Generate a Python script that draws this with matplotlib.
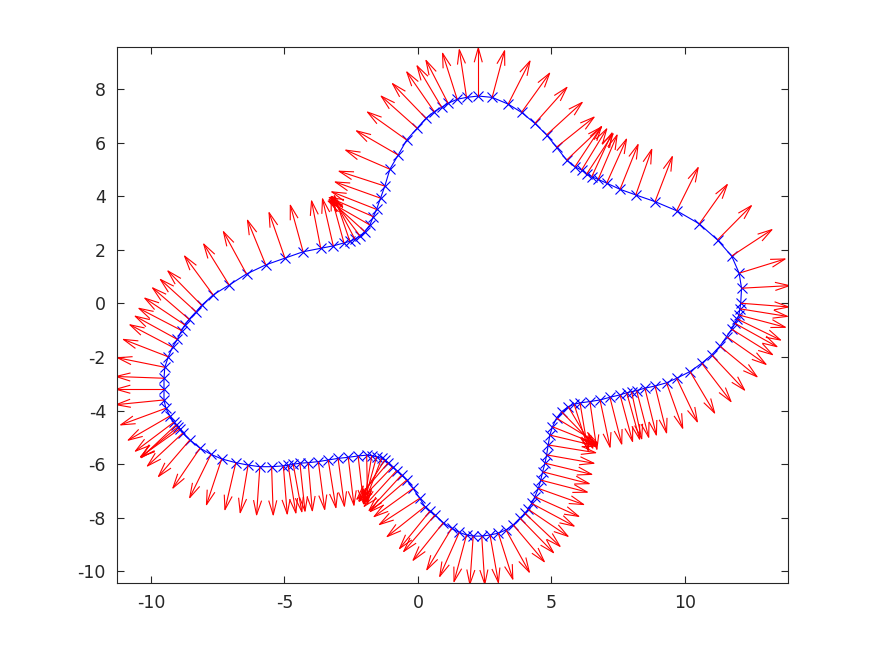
import numpy as np
import matplotlib
matplotlib.use('Agg')
import matplotlib.pyplot as plt
from matplotlib.collections import LineCollection

plt.rcParams['axes.unicode_minus'] = False

# boundary points, counter-clockwise from the top
curve_x = [2.26, 1.82, 1.47, 1.13, 0.89, 0.61, 0.30, -0.03, -0.42, -0.74,
           -1.05, -1.24, -1.40, -1.55, -1.67, -1.80, -1.99, -2.17, -2.36, -2.55,
           -2.77, -3.17, -3.64, -4.30, -4.98, -5.70, -6.42, -7.07, -7.67, -8.10,
           -8.31, -8.57, -8.73, -8.85, -9.01, -9.19, -9.35, -9.48, -9.51, -9.51,
           -9.51, -9.44, -9.29, -9.14, -9.05, -8.98, -8.92, -8.81, -8.54, -8.16,
           -7.75, -7.35, -6.82, -6.36, -5.92, -5.48, -5.04, -4.86, -4.67, -4.42,
           -4.11, -3.73, -3.36, -2.99, -2.61, -2.24, -1.92, -1.73, -1.55, -1.36,
           -1.24, -1.11, -0.95, -0.80, -0.61, -0.42, -0.18, 0.07, 0.26, 0.45,
           0.64, 0.95, 1.26, 1.55, 1.82, 2.07, 2.39, 2.70, 3.01, 3.30,
           3.57, 3.82, 4.01, 4.13, 4.26, 4.38, 4.51, 4.60, 4.67, 4.76,
           4.82, 4.88, 4.94, 5.04, 5.19, 5.38, 5.63, 5.85, 6.07, 6.44,
           6.82, 7.19, 7.57, 7.82, 8.00, 8.19, 8.50, 8.88, 9.31, 9.69,
           10.19, 10.63, 11.00, 11.31, 11.56, 11.75, 11.87, 11.96, 12.02, 12.06,
           12.09, 12.12, 12.03, 11.75, 11.22, 10.54, 9.69, 8.88, 8.16, 7.57,
           7.07, 6.75, 6.51, 6.32, 6.13, 5.88, 5.57, 5.19, 4.82, 4.38,
           3.88, 3.38, 2.78]
curve_y = [7.74, 7.69, 7.62, 7.47, 7.32, 7.16, 6.91, 6.54, 6.10, 5.54,
           5.01, 4.38, 3.93, 3.51, 3.24, 2.93, 2.68, 2.52, 2.40, 2.32,
           2.26, 2.15, 2.06, 1.93, 1.69, 1.44, 1.10, 0.69, 0.32, -0.07,
           -0.31, -0.59, -0.80, -1.01, -1.34, -1.63, -1.99, -2.38, -2.79, -3.20,
           -3.60, -3.91, -4.20, -4.43, -4.52, -4.60, -4.68, -4.84, -5.09, -5.40,
           -5.63, -5.80, -5.94, -6.03, -6.09, -6.09, -6.06, -6.04, -6.00, -5.96,
           -5.94, -5.90, -5.84, -5.78, -5.74, -5.69, -5.66, -5.68, -5.72, -5.78,
           -5.84, -5.94, -6.09, -6.24, -6.40, -6.59, -6.90, -7.27, -7.58, -7.75,
           -7.89, -8.18, -8.39, -8.54, -8.64, -8.68, -8.68, -8.64, -8.57, -8.45,
           -8.26, -8.01, -7.83, -7.68, -7.46, -7.21, -6.90, -6.59, -6.28, -5.96,
           -5.65, -5.28, -4.91, -4.60, -4.28, -4.04, -3.85, -3.76, -3.71, -3.66,
           -3.60, -3.50, -3.41, -3.33, -3.29, -3.25, -3.16, -3.08, -2.96, -2.79,
           -2.54, -2.23, -1.92, -1.59, -1.24, -0.96, -0.74, -0.58, -0.43, -0.20,
           0.01, 0.57, 1.13, 1.77, 2.37, 2.97, 3.46, 3.80, 4.05, 4.26,
           4.49, 4.63, 4.73, 4.83, 4.98, 5.10, 5.35, 5.83, 6.29, 6.72,
           7.13, 7.44, 7.69]

x_ticks = [-10, -5, 0, 5, 10]
y_ticks = [-10, -8, -6, -4, -2, 0, 2, 4, 6, 8]

x = np.array(curve_x)
y = np.array(curve_y)

# outward normals from neighbouring points (closed curve, ccw)
dx = np.roll(x, -1) - np.roll(x, 1)
dy = np.roll(y, -1) - np.roll(y, 1)
nrm = np.hypot(dx, dy)
u = dy / nrm
v = -dx / nrm
arrow_len = 1.8
u = u * arrow_len
v = v * arrow_len

# matlab style arrows: shaft plus two head strokes
alpha = 0.3
beta = 0.28
segs = []
for xi, yi, ui, vi in zip(x, y, u, v):
    tx, ty = xi + ui, yi + vi
    segs.append([(xi, yi), (tx, ty)])
    segs.append([(tx - alpha * (ui + beta * vi), ty - alpha * (vi - beta * ui)), (tx, ty),
                 (tx - alpha * (ui - beta * vi), ty - alpha * (vi + beta * ui))])

fig = plt.figure(figsize=(8.75, 6.56), dpi=100)
ax = fig.add_axes([117 / 875, 1 - 583 / 656, 671 / 875, 536 / 656])

ax.plot(np.append(x, x[0]), np.append(y, y[0]), '-', color='b', linewidth=0.8)
ax.plot(x, y, 'x', color='b', markersize=7.5, markeredgewidth=0.8)
ax.add_collection(LineCollection(segs, colors='r', linewidths=0.8))

ax.set_xlim(-11.27, 13.86)
ax.set_ylim(-10.43, 9.57)
ax.set_xticks(x_ticks)
ax.set_yticks(y_ticks)
ax.tick_params(direction='in', length=5, width=0.8, top=True, right=True,
               labelsize=12.5, colors='#262626', pad=8)
for s in ax.spines.values():
    s.set_color('#262626')
    s.set_linewidth(0.8)

fig.savefig('out.png', dpi=100)
